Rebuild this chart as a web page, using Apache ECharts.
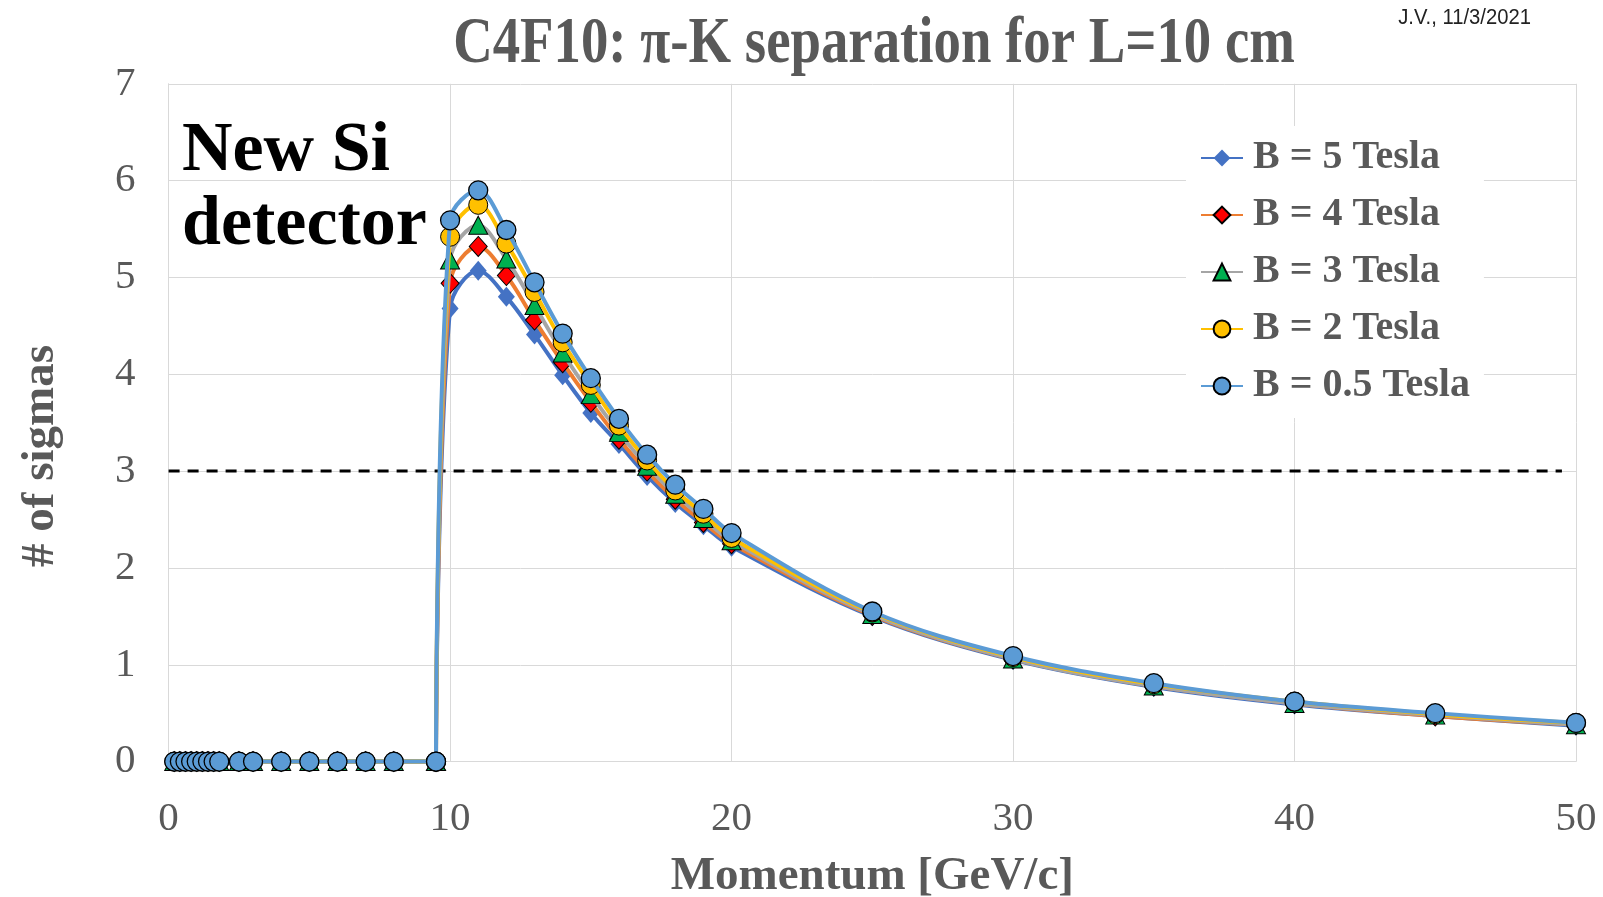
<!DOCTYPE html>
<html>
<head>
<meta charset="utf-8">
<script src="https://cdn.jsdelivr.net/npm/echarts@6/dist/echarts.min.js"></script>
<style>
html,body{margin:0;padding:0;background:#fff;}
#chart{width:1603px;height:897px;}
</style>
</head>
<body>
<div id="chart"></div>
<script>
// ---- data ----
const momentum = [0.2,0.4,0.6,0.8,1.0,1.2,1.4,1.6,1.8,2.5,3,4,5,6,7,8,9.5,
                  10,11,12,13,14,15,16,17,18,19,20,25,30,35,40,45,50];
const sepB5  = [0,0,0,0,0,0,0,0,0,0,0,0,0,0,0,0,0,
                4.68,5.07,4.80,4.41,3.99,3.60,3.28,2.95,2.67,2.44,2.22,1.50,1.05,0.77,0.59,0.47,0.37];
const sepB4  = [0,0,0,0,0,0,0,0,0,0,0,0,0,0,0,0,0,
                4.94,5.32,5.02,4.56,4.12,3.71,3.33,3.00,2.71,2.47,2.25,1.51,1.06,0.78,0.60,0.47,0.38];
const sepB3  = [0,0,0,0,0,0,0,0,0,0,0,0,0,0,0,0,0,
                5.18,5.54,5.19,4.71,4.22,3.79,3.40,3.05,2.76,2.51,2.28,1.52,1.06,0.78,0.60,0.48,0.38];
const sepB2  = [0,0,0,0,0,0,0,0,0,0,0,0,0,0,0,0,0,
                5.42,5.75,5.35,4.85,4.33,3.89,3.47,3.11,2.80,2.56,2.31,1.54,1.08,0.80,0.62,0.49,0.40];
const sepB05 = [0,0,0,0,0,0,0,0,0,0,0,0,0,0,0,0,0,
                5.59,5.90,5.49,4.95,4.42,3.96,3.54,3.17,2.86,2.61,2.36,1.55,1.09,0.81,0.62,0.50,0.40];
const seriesNames = ['B = 5 Tesla','B = 4 Tesla','B = 3 Tesla','B = 2 Tesla','B = 0.5 Tesla'];
const threshold = 3;
const thresholdRange = [0, 49.5];
const thresholdStart = 9.5; // last point of the flat part
const xTicks = [0,10,20,30,40,50];
const yTicks = [0,1,2,3,4,5,6,7];
const titleText = 'C4F10: \u03c0-K separation for L=10 cm';
const noteText = 'J.V., 11/3/2021';
const annotationText = 'New Si\ndetector';
const xTitle = 'Momentum [GeV/c]';
const yTitle = '# of sigmas';

// ---- styles ----
const SERIF = '"Liberation Serif","Times New Roman",serif';
const GRAY = '#595959';
const styles = [
  {line:'#4472C4', fill:'#4472C4', border:'#4472C4', bw:0, symbol:'diamond', size:[17,20]},
  {line:'#ED7D31', fill:'#FF0000', border:'#000', bw:1, symbol:'diamond', size:[18,20]},
  {line:'#A5A5A5', fill:'#00B050', border:'#000', bw:1, symbol:'triangle', size:[19,18]},
  {line:'#FFC000', fill:'#FFC000', border:'#000', bw:1, symbol:'circle', size:19},
  {line:'#5B9BD5', fill:'#5B9BD5', border:'#000', bw:1.3, symbol:'circle', size:19}
];
const allValues = [sepB5, sepB4, sepB3, sepB2, sepB05];

const splitIdx = momentum.indexOf(thresholdStart);
const series = [{
  name: 'threshold', type: 'line', silent: true, symbol: 'none', z: 1,
  data: thresholdRange.map(x => [x, threshold]),
  lineStyle: {color:'#000', width:3, type:[11,8]}
}];
allValues.forEach((vals, i) => {
  const s = styles[i];
  const pts = momentum.map((x, k) => [x, vals[k]]);
  const common = {
    name: seriesNames[i], type: 'line', symbol: s.symbol, symbolSize: s.size,
    showAllSymbol: true, z: 2 + i, clip: false,
    lineStyle: {color: s.line, width: 4},
    itemStyle: {color: s.fill, borderColor: s.border, borderWidth: s.bw},
    emphasis: {disabled: true}
  };
  series.push(Object.assign({}, common, {data: pts.slice(0, splitIdx + 1), smooth: false}));
  series.push(Object.assign({}, common, {data: pts.slice(splitIdx), smooth: 0.35}));
});

const chart = echarts.init(document.getElementById('chart'), null, {renderer:'canvas'});
chart.setOption({
  animation: false,
  backgroundColor: '#fff',
  grid: {left: 168.6, right: 27, top: 83.8, bottom: 135.4, outerBoundsMode: 'none', containLabel: false},
  xAxis: {
    type: 'value', min: xTicks[0], max: xTicks[xTicks.length-1], interval: 10,
    name: xTitle, nameLocation: 'middle', nameGap: 92,
    nameTextStyle: {fontFamily: SERIF, fontWeight: 'bold', fontSize: 47, color: GRAY},
    axisLine: {show: true, lineStyle: {color: '#d9d9d9', width: 1}},
    axisTick: {show: false},
    splitLine: {show: true, lineStyle: {color: '#d9d9d9', width: 1}},
    axisLabel: {fontFamily: SERIF, fontSize: 41, color: GRAY, margin: 37}
  },
  yAxis: {
    type: 'value', min: yTicks[0], max: yTicks[yTicks.length-1], interval: 1,
    axisLine: {show: true, lineStyle: {color: '#d9d9d9', width: 1}},
    axisTick: {show: false},
    splitLine: {show: true, lineStyle: {color: '#d9d9d9', width: 1}},
    axisLabel: {fontFamily: SERIF, fontSize: 41, color: GRAY, margin: 33}
  },
  legend: {
    data: seriesNames, orient: 'vertical', left: 1186, top: 126,
    backgroundColor: '#fff', padding: [12, 14, 12, 14], itemGap: 17,
    itemWidth: 42, itemHeight: 21,
    textStyle: {fontFamily: SERIF, fontWeight: 'bold', fontSize: 40, color: GRAY, lineHeight: 39, padding: [0, 0, 0, 5]},
    selectedMode: false
  },
  graphic: [
    {type: 'text', x: 874, y: 45, scaleX: 0.83, z: 10,
     style: {text: titleText, font: 'bold 66px ' + SERIF, fill: GRAY, align: 'center', verticalAlign: 'middle'}},
    {type: 'text', x: 1531, y: 18, scaleX: 0.92, z: 10,
     style: {text: noteText, font: '22px "Liberation Sans Narrow","Liberation Sans",sans-serif', fill: '#222', align: 'right', verticalAlign: 'middle'}},
    {type: 'text', x: 182, y: 115, z: 10,
     style: {text: annotationText, font: 'bold 70px ' + SERIF, fill: '#000', align: 'left', verticalAlign: 'top', lineHeight: 74}},
    {type: 'text', x: 41, y: 456, rotation: Math.PI / 2, z: 10,
     style: {text: yTitle, font: 'bold 47px ' + SERIF, fill: GRAY, align: 'center', verticalAlign: 'middle'}}
  ],
  series: series
});
</script>
</body>
</html>
